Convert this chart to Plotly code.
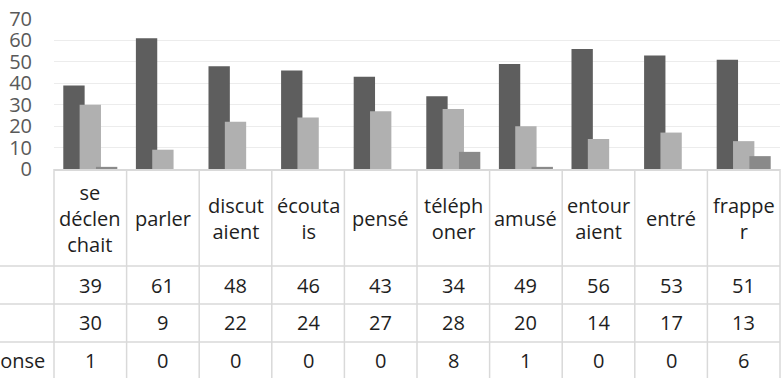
import plotly.graph_objects as go

# Verbs (categories) and their wrapped header labels in the data table
categories = ["se déclenchait", "parler", "discutaient", "écoutais", "pensé",
              "téléphoner", "amusé", "entouraient", "entré", "frapper"]
tick_labels = ["se<br>déclen<br>chait", "parler", "discut<br>aient", "écouta<br>is",
               "pensé", "téléph<br>oner", "amusé", "entour<br>aient", "entré",
               "frappe<br>r"]

series_names = ["Oui", "Non", "Pas de réponse"]
serie_1 = [39, 61, 48, 46, 43, 34, 49, 56, 53, 51]
serie_2 = [30, 9, 22, 24, 27, 28, 20, 14, 17, 13]
serie_3 = [1, 0, 0, 0, 0, 8, 1, 0, 0, 6]

y_ticks = [0, 10, 20, 30, 40, 50, 60, 70]

colors = ["#5e5e5e", "#b0b0b0", "#8a8a8a"]
offsets = [-0.372, -0.147, 0.078]
bar_width = 0.294

W, H = 783, 378
ML, MR, MT, MB = 54, 3, 19, 209
plot_h = H - MT - MB
plot_w = W - ML - MR


def py(p):
    """pixel row -> paper y"""
    return (H - MB - p) / plot_h


def px(p):
    """pixel column -> paper x"""
    return (p - ML) / plot_w


x_idx = list(range(len(categories)))
fig = go.Figure()
for name, vals, col, off in zip(series_names, [serie_1, serie_2, serie_3], colors, offsets):
    fig.add_trace(go.Bar(
        x=x_idx, y=vals, name=name, width=bar_width, offset=off,
        marker=dict(color=col, line=dict(width=0)),
        hovertext=categories,
    ))

font_family = "Open Sans"
text_col = "#1e1e1e"

annotations = []
shapes = []
line_col = "#d9d9d9"

# header row with verb labels
header_top, header_bot = H - MB, 266
row_bounds = [266, 304, 342, H]
for i, lab in enumerate(tick_labels):
    annotations.append(dict(
        x=i, xref="x", y=py((header_top + header_bot) / 2 + 1), yref="paper",
        text=lab, showarrow=False, xanchor="center", yanchor="middle",
        font=dict(family=font_family, size=20, color=text_col)))

# value rows, each led by its series name in the left column
for r, (name, vals) in enumerate(zip(series_names, [serie_1, serie_2, serie_3])):
    yc = py((row_bounds[r] + row_bounds[r + 1]) / 2)
    for i, v in enumerate(vals):
        annotations.append(dict(
            x=i, xref="x", y=yc, yref="paper", text=str(v), showarrow=False,
            xanchor="center", yanchor="middle",
            font=dict(family=font_family, size=20, color=text_col)))
    annotations.append(dict(
        x=px(-100), xref="paper", y=yc, yref="paper", text=name, showarrow=False,
        xanchor="left", yanchor="middle",
        font=dict(family=font_family, size=20, color=text_col)))

# table grid: vertical separators at category boundaries
n = len(categories)
for k in range(n + 1):
    xp = k / n
    shapes.append(dict(type="line", xref="paper", yref="paper",
                       x0=xp, x1=xp, y0=py(H - MB), y1=py(H + 2),
                       line=dict(color=line_col, width=1.5)))
# horizontal separators between rows
for rb in row_bounds[:-1]:
    shapes.append(dict(type="line", xref="paper", yref="paper",
                       x0=px(-2), x1=1, y0=py(rb), y1=py(rb),
                       line=dict(color=line_col, width=1.5)))

fig.update_layout(
    width=W, height=H,
    margin=dict(l=ML, r=MR, t=MT, b=MB, pad=0),
    barmode="overlay",
    showlegend=False,
    plot_bgcolor="white", paper_bgcolor="white",
    font=dict(family=font_family, size=20, color="#595959"),
    annotations=annotations,
    shapes=shapes,
    xaxis=dict(range=[-0.5, n - 0.5], showticklabels=False, showgrid=False,
               zeroline=False, showline=True, linecolor=line_col, linewidth=2,
               fixedrange=True),
    yaxis=dict(range=[0, 70], tickvals=y_ticks, showgrid=True,
               gridcolor="#ececec", gridwidth=1.2, zeroline=False, showline=False,
               ticks="", ticklabelstandoff=21,
               tickfont=dict(family=font_family, size=20, color="#595959"),
               fixedrange=True),
)

fig.write_html("out.html")
